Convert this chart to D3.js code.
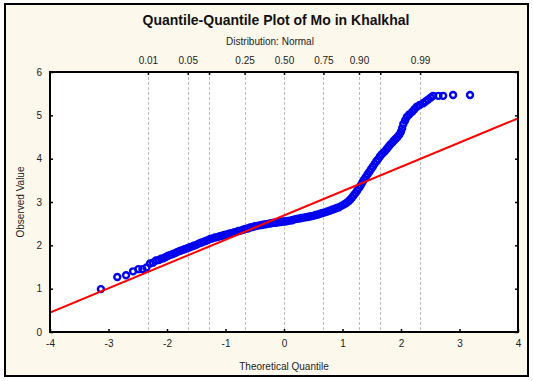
<!DOCTYPE html>
<html>
<head>
<meta charset="utf-8">
<script src="https://cdn.jsdelivr.net/npm/d3@7"></script>
<style>
  html, body { margin: 0; padding: 0; background: #ffffff; }
  svg { display: block; font-family: "Liberation Sans", Arial, sans-serif; }
</style>
</head>
<body>
<svg id="chart" width="533" height="381"></svg>
<script>
// ---- data ----
const titleText = "Quantile-Quantile Plot of Mo in Khalkhal";
const subtitleText = "Distribution: Normal";
const xLabel = "Theoretical Quantile";
const yLabel = "Observed Value";

const xTicks = [-4, -3, -2, -1, 0, 1, 2, 3, 4];
const yTicks = [0, 1, 2, 3, 4, 5, 6];

// cumulative probabilities shown on the top axis and their normal quantiles
const probLabels = ["0.01", "0.05", "", "0.25", "0.50", "0.75", "0.90", "", "0.99"];
const probZ = [-2.326, -1.645, -1.2816, -0.674, 0, 0.674, 1.2816, 1.645, 2.326];

// theoretical quantiles (x) and observed values (y) of the plotted points
const theoretical = [
  -3.13, -2.85, -2.70, -2.58, -2.49, -2.42, -2.35, -2.29, -2.24, -2.19,
  -2.14, -2.10, -2.06, -2.02, -1.98, -1.94, -1.90, -1.86, -1.82, -1.78,
  -1.74, -1.70, -1.66, -1.62, -1.58, -1.54, -1.50, -1.46, -1.42, -1.38,
  -1.34, -1.30, -1.26, -1.22, -1.18, -1.14, -1.10, -1.06, -1.02, -0.98,
  -0.94, -0.90, -0.86, -0.82, -0.78, -0.74, -0.70, -0.66, -0.62, -0.58,
  -0.54, -0.50, -0.46, -0.42, -0.38, -0.34, -0.30, -0.26, -0.22, -0.18,
  -0.14, -0.10, -0.06, -0.02, 0.02, 0.06, 0.10, 0.14, 0.18, 0.22,
  0.26, 0.30, 0.34, 0.38, 0.42, 0.46, 0.50, 0.54, 0.58, 0.62,
  0.66, 0.70, 0.74, 0.78, 0.82, 0.86, 0.90, 0.94, 0.98, 1.02,
  1.06, 1.10, 1.13, 1.16, 1.19, 1.22, 1.25, 1.28, 1.31, 1.34,
  1.37, 1.40, 1.43, 1.46, 1.49, 1.52, 1.55, 1.58, 1.61, 1.64,
  1.67, 1.70, 1.73, 1.76, 1.79, 1.82, 1.85, 1.88, 1.91, 1.94,
  1.97, 2.00, 2.02, 2.04, 2.07, 2.10, 2.14, 2.19, 2.23, 2.27,
  2.32, 2.38, 2.42, 2.46, 2.51, 2.55, 2.64, 2.72, 2.89, 3.18
];
const observed = [
  0.99, 1.27, 1.31, 1.40, 1.45, 1.45, 1.49, 1.58, 1.60, 1.65,
  1.66, 1.69, 1.70, 1.73, 1.76, 1.78, 1.80, 1.82, 1.85, 1.87,
  1.89, 1.91, 1.93, 1.95, 1.97, 1.99, 2.01, 2.04, 2.06, 2.08,
  2.10, 2.12, 2.15, 2.16, 2.18, 2.19, 2.21, 2.22, 2.24, 2.25,
  2.27, 2.28, 2.30, 2.31, 2.33, 2.34, 2.36, 2.38, 2.39, 2.41,
  2.42, 2.44, 2.45, 2.46, 2.47, 2.48, 2.49, 2.50, 2.51, 2.52,
  2.52, 2.53, 2.54, 2.55, 2.55, 2.56, 2.57, 2.58, 2.60, 2.61,
  2.62, 2.63, 2.64, 2.65, 2.66, 2.67, 2.68, 2.70, 2.71, 2.73,
  2.75, 2.76, 2.78, 2.80, 2.82, 2.84, 2.86, 2.88, 2.91, 2.94,
  2.97, 3.01, 3.05, 3.10, 3.15, 3.20, 3.26, 3.32, 3.38, 3.45,
  3.52, 3.58, 3.64, 3.70, 3.76, 3.82, 3.88, 3.94, 3.99, 4.05,
  4.10, 4.14, 4.18, 4.23, 4.28, 4.33, 4.37, 4.42, 4.46, 4.50,
  4.55, 4.62, 4.70, 4.80, 4.88, 4.96, 5.02, 5.08, 5.14, 5.20,
  5.24, 5.28, 5.32, 5.36, 5.41, 5.45, 5.45, 5.45, 5.47, 5.47
];

// reference line: observed = intercept + slope * theoretical
const lineIntercept = 2.69;
const lineSlope = 0.56;

// ---- drawing ----
const svg = d3.select("#chart");
const W = 533, H = 381;
const plot = { left: 50, right: 518, top: 72, bottom: 332 };

// background frame
svg.append("rect").attr("x", 0).attr("y", 0).attr("width", W).attr("height", H).attr("fill", "#ffffff");
svg.append("rect").attr("x", 5).attr("y", 4).attr("width", 523).attr("height", 372)
  .attr("fill", "#fdf8ec").attr("stroke", "#000").attr("stroke-width", 2);

const x = d3.scaleLinear().domain([-4, 4]).range([plot.left, plot.right]);
const y = d3.scaleLinear().domain([0, 6]).range([plot.bottom, plot.top]);

// plot area
svg.append("rect").attr("x", plot.left).attr("y", plot.top)
  .attr("width", plot.right - plot.left).attr("height", plot.bottom - plot.top)
  .attr("fill", "#ffffff");

// dashed vertical grid at the probability quantiles
svg.append("g").selectAll("line").data(probZ).join("line")
  .attr("x1", d => Math.round(x(d)) + 0.5).attr("x2", d => Math.round(x(d)) + 0.5)
  .attr("y1", plot.top).attr("y2", plot.bottom)
  .attr("stroke", "#bdbdbd").attr("stroke-width", 1).attr("stroke-dasharray", "3,2");

// clip for data
svg.append("clipPath").attr("id", "clip").append("rect")
  .attr("x", plot.left).attr("y", plot.top)
  .attr("width", plot.right - plot.left).attr("height", plot.bottom - plot.top);

const g = svg.append("g").attr("clip-path", "url(#clip)");

// points
const pts = theoretical.map((t, i) => ({ t, v: observed[i] }));
g.selectAll("circle").data(pts).join("circle")
  .attr("cx", d => x(d.t)).attr("cy", d => y(d.v)).attr("r", 3)
  .attr("fill", "none").attr("stroke", "#0000f0").attr("stroke-width", 2.4);

// reference line
g.append("line")
  .attr("x1", x(-4)).attr("y1", y(lineIntercept + lineSlope * -4))
  .attr("x2", x(4)).attr("y2", y(lineIntercept + lineSlope * 4))
  .attr("stroke", "#ff0000").attr("stroke-width", 2);

// axes
const fontSize = 10;
const intFmt = d => String(d);
const bottomAxis = d3.axisBottom(x).tickValues(xTicks).tickSize(-3).tickPadding(8).tickFormat(intFmt);
const leftAxis = d3.axisLeft(y).tickValues(yTicks).tickSize(-3).tickPadding(8).tickFormat(intFmt);
const rightAxis = d3.axisRight(y).tickValues(yTicks).tickSize(-3).tickFormat("");
const topAxis = d3.axisTop(x).tickValues(probZ).tickSize(-3).tickPadding(8).tickFormat((d, i) => probLabels[i]);

function styleAxis(sel) {
  sel.selectAll("line").attr("stroke", "#000").attr("stroke-width", 1.5);
  sel.selectAll("text").attr("fill", "#222").attr("font-size", fontSize)
    .attr("font-family", "'Liberation Sans', Arial, sans-serif");
  sel.select(".domain").remove();
}

svg.append("g").attr("transform", `translate(0,${plot.bottom})`).call(bottomAxis).call(styleAxis);
svg.append("g").attr("transform", `translate(${plot.left},0)`).call(leftAxis).call(styleAxis);
svg.append("g").attr("transform", `translate(${plot.right},0)`).call(rightAxis).call(styleAxis);
svg.append("g").attr("transform", `translate(0,${plot.top})`).call(topAxis).call(styleAxis);

// plot border
svg.append("rect").attr("x", plot.left).attr("y", plot.top)
  .attr("width", plot.right - plot.left).attr("height", plot.bottom - plot.top)
  .attr("fill", "none").attr("stroke", "#000").attr("stroke-width", 2);

// titles
svg.append("text").attr("x", 276).attr("y", 25).attr("text-anchor", "middle")
  .attr("font-size", 14).attr("font-weight", "bold").attr("fill", "#111").text(titleText);
svg.append("text").attr("x", 270).attr("y", 45).attr("text-anchor", "middle")
  .attr("font-size", 10).attr("fill", "#222").text(subtitleText);
svg.append("text").attr("x", 284).attr("y", 370).attr("text-anchor", "middle")
  .attr("font-size", 10).attr("fill", "#222").text(xLabel);
svg.append("text").attr("transform", "translate(24,202) rotate(-90)").attr("text-anchor", "middle")
  .attr("font-size", 10).attr("fill", "#222").text(yLabel);
</script>
</body>
</html>
